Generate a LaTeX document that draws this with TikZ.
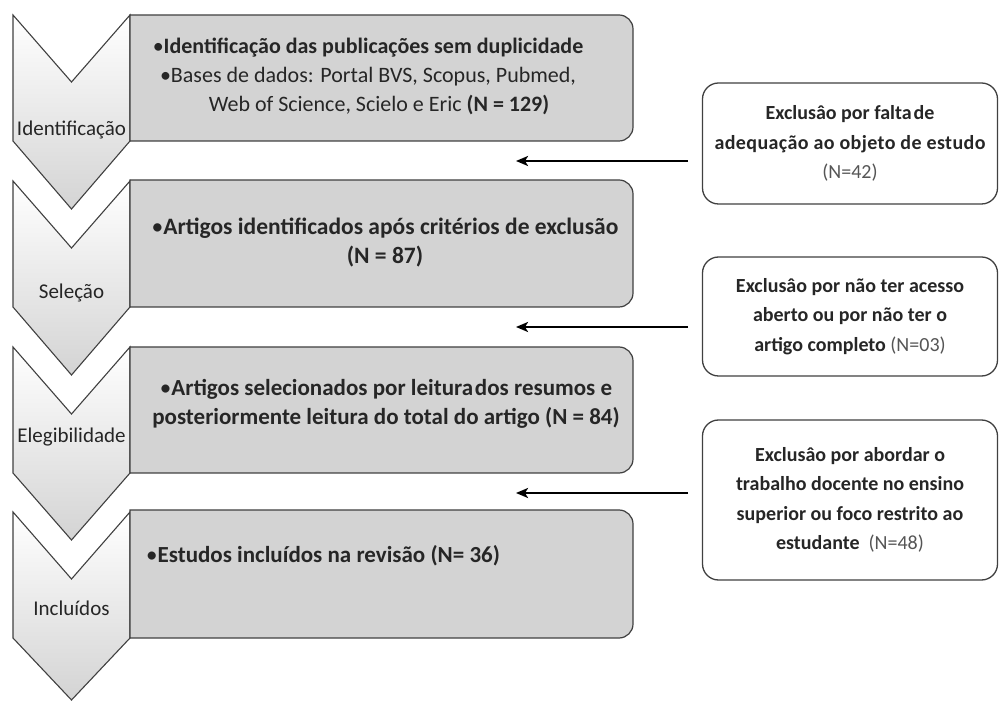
\documentclass[tikz,border=0pt]{standalone}
\usepackage{fontspec}
\setmainfont{Carlito}
\usetikzlibrary{arrows.meta}
\definecolor{edge}{HTML}{404040}
\definecolor{boxgray}{HTML}{D3D3D3}
\definecolor{txt}{HTML}{262626}
\definecolor{ntxt}{HTML}{555555}
\newcommand{\chevpath}[2]{(13,#1) -- (71.5,{#1-67}) -- (130,#1) -- (130,{#1-126}) -- (71.5,#2) -- (13,{#1-126}) -- cycle}
\newcommand{\halfround}[1]{\draw[graybox] (#1.north west) -- ([xshift=-14pt]#1.north east) arc[start angle=90,end angle=0,radius=14pt] -- ([yshift=14pt]#1.south east) arc[start angle=0,end angle=-90,radius=14pt] -- (#1.south west) -- cycle;}
\newcommand{\bul}{{\mdseries •}}
\tikzset{
  chev/.style={draw=edge, line width=1.1pt, top color=white, bottom color=black!17, line join=miter},
  graybox/.style={draw=edge, fill=boxgray, line width=1.2pt},
  boxframe/.style={inner sep=0pt, outer sep=0pt, anchor=north west, minimum width=503pt},
  chevlabel/.style={text=txt, font=\fontsize{21}{24}\selectfont},
  maintext/.style={text=txt, align=center, inner sep=0pt},
  exbox/.style={draw=edge, fill=white, line width=1.3pt, rounded corners=16pt, minimum width=295pt,
    text=txt, align=center, font=\fontsize{20}{29.5}\selectfont\bfseries, inner sep=0pt},
  exarrow/.style={line width=2.4pt, -{Stealth[length=12pt,width=10pt,inset=3pt]}}
}
\begin{document}
\begin{tikzpicture}[x=1pt,y=1pt]
\useasboundingbox (0,0) rectangle (999,702);
% chevrons
\shadedraw[chev] \chevpath{687}{493};
\shadedraw[chev] \chevpath{521}{327};
\shadedraw[chev] \chevpath{355}{162};
\shadedraw[chev] \chevpath{190}{2};
\node[chevlabel] (c1) at (71.5,572) {Identificação};
\node[chevlabel] (c2) at (71.5,409) {Seleção};
\node[chevlabel] (c3) at (71.5,265) {Elegibilidade};
\node[chevlabel] (c4) at (71.5,94) {Incluídos};
% gray boxes
\node[boxframe, minimum height=126pt] (g1) at (130,687) {};
\node[boxframe, minimum height=127pt] (g2) at (130,522) {};
\node[boxframe, minimum height=126pt] (g3) at (130,355) {};
\node[boxframe, minimum height=128pt] (g4) at (130,192) {};
\halfround{g1}
\halfround{g2}
\halfround{g3}
\halfround{g4}
\node[maintext, font=\fontsize{22}{29}\selectfont] (t1) at (368,626) {\textbf{\bul Identificação das publicações sem duplicidade}\\\bul Bases de dados: Portal BVS, Scopus, Pubmed,\\\hspace*{22pt}Web of Science, Scielo e Eric \textbf{(N = 129)}};
\node[maintext, font=\fontsize{23.5}{29}\selectfont\bfseries] (t2) at (385,459.5) {\bul Artigos identificados após critérios de exclusão\\(N = 87)};
\node[maintext, font=\fontsize{23}{29}\selectfont\bfseries] (t3) at (386,298.5) {\bul Artigos selecionados por leitura\hspace{0.08em}dos resumos e\\posteriormente leitura do total do artigo (N = 84)};
\node[maintext, font=\fontsize{23}{29}\selectfont\bfseries, anchor=west] (t4) at (146,146) {\bul Estudos incluídos na revisão (N= 36)};
% exclusion boxes
\node[exbox, minimum height=121pt] (e1) at (850,558.5) {Exclusâo por falta\hspace{0.1em}de\\{\addfontfeature{LetterSpace=2}adequação ao objeto de estudo}\\{\mdseries\color{ntxt}(N=42)}};
\node[exbox, minimum height=119pt] (e2) at (850,385.5) {Exclusâo por não ter acesso\\aberto ou por não ter o\\artigo completo {\mdseries\color{ntxt}(N=03)}};
\node[exbox, minimum height=160pt] (e3) at (850,202) {Exclusâo por abordar o\\trabalho docente no ensino\\superior ou foco restrito ao\\estudante \ {\mdseries\color{ntxt}(N=48)}};
% arrows
\coordinate (a1s) at (688,541); \coordinate (a1e) at (516,541);
\coordinate (a2s) at (688,375); \coordinate (a2e) at (516,375);
\coordinate (a3s) at (688,209); \coordinate (a3e) at (516,209);
\draw[exarrow] (a1s) -- (a1e);
\draw[exarrow] (a2s) -- (a2e);
\draw[exarrow] (a3s) -- (a3e);
\end{tikzpicture}
\end{document}
